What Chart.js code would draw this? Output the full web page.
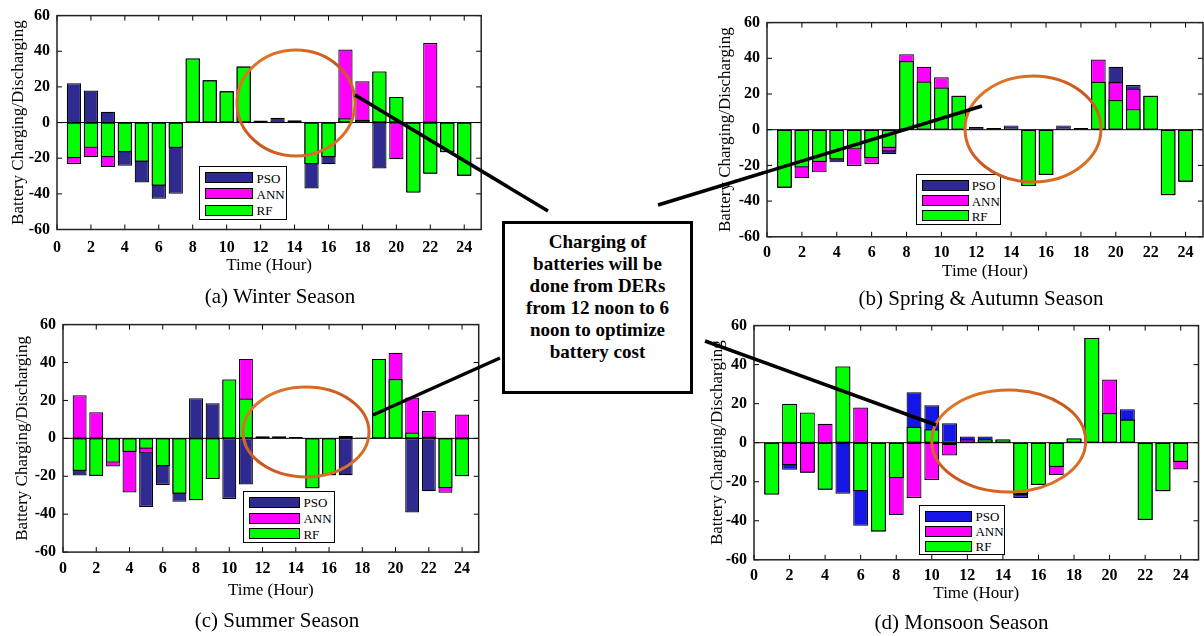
<!DOCTYPE html>
<html>
<head>
<meta charset="utf-8">
<script src="https://cdn.jsdelivr.net/npm/chart.js@4.4.1/dist/chart.umd.min.js"></script>
<style>
body{margin:0;background:#fff;overflow:hidden;font-family:"Liberation Serif","Times New Roman",serif;color:#000;}
#page{position:relative;width:1204px;height:636px;overflow:hidden;}
canvas{position:absolute;}
.cap{position:absolute;font-size:21px;white-space:nowrap;transform:translate(-50%,-50%);}
.leg{position:absolute;border:1px solid #000;background:#fff;box-sizing:border-box;}
.leg .sw{position:absolute;height:11px;border:1px solid #000;box-sizing:border-box;}
.leg .tx{position:absolute;font-size:13px;line-height:13px;transform:translateY(-50%);}
#note{position:absolute;left:502px;top:221px;width:191px;height:173px;box-sizing:border-box;border:3.5px solid #000;background:#fff;
  font-family:"Liberation Serif","Times New Roman",serif;font-weight:bold;font-size:19px;line-height:22px;text-align:center;padding-top:6.5px;}
svg{position:absolute;left:0;top:0;pointer-events:none;}
</style>
</head>
<body>
<div id="page">
  <div id="note">Charging of<br>batteries will be<br>done from DERs<br>from 12 noon to 6<br>noon to optimize<br>battery cost</div>
</div>
<script>
// hours on the x axis and the tick labels
const hours = [1,2,3,4,5,6,7,8,9,10,11,12,13,14,15,16,17,18,19,20,21,22,23,24];
const xTicks = [0,2,4,6,8,10,12,14,16,18,20,22,24];
const yTicks = [-60,-40,-20,0,20,40,60];
const seriesNames = ['PSO','ANN','RF'];

// (a) winter
const winterPSO = [22,18,6,-24.3,-33.6,-42.7,-40,36,23.7,17.5,31.4,1.1,2.7,1.3,-37,-23.4,2.4,1.6,-25.8,14.4,-39.3,-28.7,-16.6,-29.8];
const winterANN = [-23.2,-19.5,-25,-16.6,-22,-35.4,-14.2,36,23.7,17.5,31.4,0,0,0,-23.4,-19.4,41,23.2,28.7,-20.6,-39.3,44.6,-16.6,-29.8];
const winterRF  = [-20,-14.2,-19.4,-16.6,-22,-35.4,-14.2,36,23.7,17.5,31.4,0,0,0,-23.4,-19.4,2.4,1.6,28.7,14.4,-39.3,-28.7,-16.6,-29.8];

// (b) spring & autumn
const springPSO = [-32.5,-21.2,-18.1,-18.3,-11,-15.9,-13.7,38.5,27,23.6,19,1.5,0.9,2.4,-31.6,-25.4,2.4,0.9,26.8,35.3,25,19,-36.7,-29.2];
const springANN = [-32.5,-27.2,-23.9,-16.6,-20.3,-19.2,-12.2,42.2,35.3,29.4,19,0,0,0,-31.6,-25.4,0,0,39.3,26.7,23,19,-36.7,-29.2];
const springRF  = [-32.5,-21.2,-18.1,-16.6,-11,-15.9,-10.2,38.5,27,23.6,19,0,0,0,-31.6,-25.4,0,0,26.8,16.6,11.5,19,-36.7,-29.2];

// (c) summer
const summerPSO = [-19.6,-19.8,-12.8,-7.2,-36.2,-24.6,-33.5,21.2,18.5,-32,-24.3,1,1,0.7,-26.3,-19.5,-19.5,0.5,41.9,31.3,-39.1,-27.9,-26.3,-20];
const summerANN = [22.7,13.8,-14.8,-28.6,-7.9,-14.7,-29.2,-32.6,-21.5,31.1,41.9,1,1,0,-26.3,-19.5,1.2,0,41.9,45.1,21.5,14.4,-28.7,12.6];
const summerRF  = [-17.2,-19.8,-12.8,-7.2,-5.5,-14.7,-29.2,-32.6,-21.5,31.1,21,1,1,0,-26.3,-19.5,1.2,0,41.9,31.3,3.1,1,-26.3,-20];

// (d) monsoon
const monsoonPSO = [-26.6,-13.9,-15.4,-24.1,-26.1,-42.6,-45.5,-18.2,25.9,19.2,10,3.2,3.2,1.7,-28.3,-21.7,-12.4,2.2,53.7,15.2,17.2,-39.6,-24.9,-9.9];
const monsoonANN = [-26.6,-11.5,-15.4,9.7,39.1,18,-45.5,-37.1,-28.3,-19.1,-6.5,1.8,1.7,1.7,-26.9,-21.7,-16.6,2.2,53.7,32.4,11.9,-39.6,-24.9,-13.7];
const monsoonRF  = [-26.6,19.9,15.5,-24.1,39.1,-24.9,-45.5,-18.2,8.2,6.9,-1.2,0,1.7,1.7,-26.3,-21.7,-12.4,2.2,53.7,15.2,11.9,-39.6,-24.9,-9.9];

const annColor = '#FF00FF';
const rfColor = '#00FF00';

const panels = [
  {pso:winterPSO, ann:winterANN, rf:winterRF, psoColor:'#2E2A8F', plot:[57,10.7,423.8,218], xTitleGap:36.3, xTickGap:18.3, yTitleX:18.5,
   caption:'(a) Winter Season', cap:[280,296], legend:[199,165.7,87.7,54.3]},
  {pso:springPSO, ann:springANN, rf:springRF, psoColor:'#2E2A8F', plot:[767.3,18.3,436,218.4], xTitleGap:35, xTickGap:15.6, yTitleX:726,
   caption:'(b) Spring & Autumn Season', cap:[981,298], legend:[916,174.3,84.7,50.7]},
  {pso:summerPSO, ann:summerANN, rf:summerRF, psoColor:'#2E2A8F', plot:[62.7,320,416.3,232.3], xTitleGap:38.7, xTickGap:17, yTitleX:22,
   caption:'(c) Summer Season', cap:[277,620], legend:[243.3,491,91.7,52.3]},
  {pso:monsoonPSO, ann:monsoonANN, rf:monsoonRF, psoColor:'#1515E6', plot:[754.3,321,443.5,239], xTitleGap:34, xTickGap:15.7, yTitleX:717.5,
   caption:'(d) Monsoon Season', cap:[961.5,622], legend:[919,505,86,50]}
];

Chart.defaults.font.family = '"Liberation Serif", "Times New Roman", serif';
Chart.defaults.color = '#000';

// box, inward ticks and zero line, like the matlab axes
const axesBox = {
  id: 'axesBox',
  afterDatasetsDraw(chart) {
    const {ctx, chartArea: a, scales} = chart;
    ctx.save();
    ctx.strokeStyle = '#000';
    ctx.lineWidth = 1;
    const y0 = scales.y.getPixelForValue(0);
    ctx.beginPath();
    ctx.moveTo(a.left, y0); ctx.lineTo(a.right, y0);
    ctx.stroke();
    ctx.beginPath();
    xTicks.forEach(v => {
      const px = scales.x.getPixelForValue(v);
      ctx.moveTo(px, a.bottom); ctx.lineTo(px, a.bottom - 5);
      ctx.moveTo(px, a.top); ctx.lineTo(px, a.top + 5);
    });
    yTicks.forEach(v => {
      const py = scales.y.getPixelForValue(v);
      ctx.moveTo(a.left, py); ctx.lineTo(a.left + 5, py);
      ctx.moveTo(a.right, py); ctx.lineTo(a.right - 5, py);
    });
    ctx.stroke();
    ctx.lineWidth = 1.5;
    ctx.strokeStyle = '#222';
    ctx.strokeRect(a.left, a.top, a.right - a.left, a.bottom - a.top);
    ctx.restore();
  }
};

const page = document.getElementById('page');
const note = document.getElementById('note');
const yW = 57, padTop = 12, padRight = 6;

panels.forEach((p, k) => {
  const [pl, pt, pw, ph] = p.plot;
  const xH = p.xTitleGap + 12.2;
  const cv = document.createElement('canvas');
  const cw = yW + pw + padRight, chh = padTop + ph + xH;
  cv.width = Math.round(cw); cv.height = Math.round(chh);
  cv.style.left = (pl - yW) + 'px';
  cv.style.top = (pt - padTop) + 'px';
  cv.style.width = Math.round(cw) + 'px';
  cv.style.height = Math.round(chh) + 'px';
  page.insertBefore(cv, note);

  const colors = [p.psoColor, annColor, rfColor];
  const vals = [p.pso, p.ann, p.rf];
  new Chart(cv, {
    type: 'bar',
    data: {
      datasets: seriesNames.map((name, i) => ({
        label: name,
        data: hours.map((h, j) => ({x: h, y: vals[i][j]})),
        backgroundColor: colors[i],
        order: 3 - i
      }))
    },
    options: {
      responsive: false,
      animation: false,
      events: [],
      layout: {padding: {top: padTop, right: padRight + (cw - Math.round(cw)), left: 0, bottom: 0}},
      datasets: {bar: {grouped: false, barPercentage: 0.84, categoryPercentage: 1, borderColor: '#000', borderWidth: 1.2, borderSkipped: false}},
      plugins: {legend: {display: false}, tooltip: {enabled: false}},
      scales: {
        x: {
          type: 'linear', min: 0, max: 25, offset: false,
          grid: {display: false, drawTicks: false}, border: {display: false},
          afterBuildTicks: s => { s.ticks = xTicks.map(v => ({value: v})); },
          afterFit: s => { s.height = xH; },
          ticks: {autoSkip: false, maxRotation: 0, padding: Math.max(0, p.xTickGap - 9.5), font: {size: 16, weight: 'bold'}, callback: v => String(v)},
          title: {display: true, text: 'Time (Hour)', font: {size: 17}, padding: {top: 0, bottom: 2}}
        },
        y: {
          min: -60, max: 60,
          grid: {display: false, drawTicks: false}, border: {display: false},
          afterBuildTicks: s => { s.ticks = yTicks.map(v => ({value: v})); },
          afterFit: s => { s.width = yW; },
          ticks: {padding: 7, font: {size: 16, weight: 'bold'}, callback: v => String(v)},
          title: {display: true, text: 'Battery Charging/Discharging', font: {size: 17}, padding: {top: p.yTitleX - (pl - yW) - 10.2, bottom: 0}}
        }
      }
    },
    plugins: [axesBox]
  });

  // legend inside the axes
  const [lx, ly, lw, lh] = p.legend;
  const lg = document.createElement('div');
  lg.className = 'leg';
  lg.style.cssText = `left:${lx}px;top:${ly}px;width:${lw}px;height:${lh}px;`;
  seriesNames.forEach((name, i) => {
    const cy = lh * (0.2 + 0.3 * i);
    const sw = document.createElement('div');
    sw.className = 'sw';
    sw.style.cssText = `left:5px;top:${cy - 5.5}px;width:${lw * 0.55}px;background:${colors[i]};`;
    const tx = document.createElement('div');
    tx.className = 'tx';
    tx.style.cssText = `left:${lw * 0.645}px;top:${cy}px;`;
    tx.textContent = name;
    lg.appendChild(sw); lg.appendChild(tx);
  });
  page.insertBefore(lg, note);

  const cap = document.createElement('div');
  cap.className = 'cap';
  cap.style.left = p.cap[0] + 'px';
  cap.style.top = p.cap[1] + 'px';
  cap.textContent = p.caption;
  page.appendChild(cap);
});

// orange circles and the pointer lines of the annotation
const ellipses = [[296,103,59,53],[1033,129,68,53],[306,432,63,45],[1008.7,441,77,51]];
const pointers = [[355,95,548,211],[658,205,982,106],[373,415,500,358],[705,341,936,425]];
const ns = 'http://www.w3.org/2000/svg';
const svg = document.createElementNS(ns, 'svg');
svg.setAttribute('width', 1204); svg.setAttribute('height', 636);
svg.innerHTML = '<defs><linearGradient id="og" x1="0" y1="0" x2="1" y2="1">' +
  '<stop offset="0" stop-color="#E9802E"/><stop offset="0.5" stop-color="#C8561F"/><stop offset="1" stop-color="#E07A2A"/></linearGradient></defs>';
ellipses.forEach(([cx, cy, rx, ry]) => {
  const e = document.createElementNS(ns, 'ellipse');
  e.setAttribute('cx', cx); e.setAttribute('cy', cy);
  e.setAttribute('rx', rx); e.setAttribute('ry', ry);
  e.setAttribute('fill', 'none'); e.setAttribute('stroke', 'url(#og)'); e.setAttribute('stroke-width', 3);
  svg.appendChild(e);
});
pointers.forEach(([x1, y1, x2, y2]) => {
  const l = document.createElementNS(ns, 'line');
  l.setAttribute('x1', x1); l.setAttribute('y1', y1);
  l.setAttribute('x2', x2); l.setAttribute('y2', y2);
  l.setAttribute('stroke', '#000'); l.setAttribute('stroke-width', 3.5);
  svg.appendChild(l);
});
page.insertBefore(svg, note);
</script>
</body>
</html>
